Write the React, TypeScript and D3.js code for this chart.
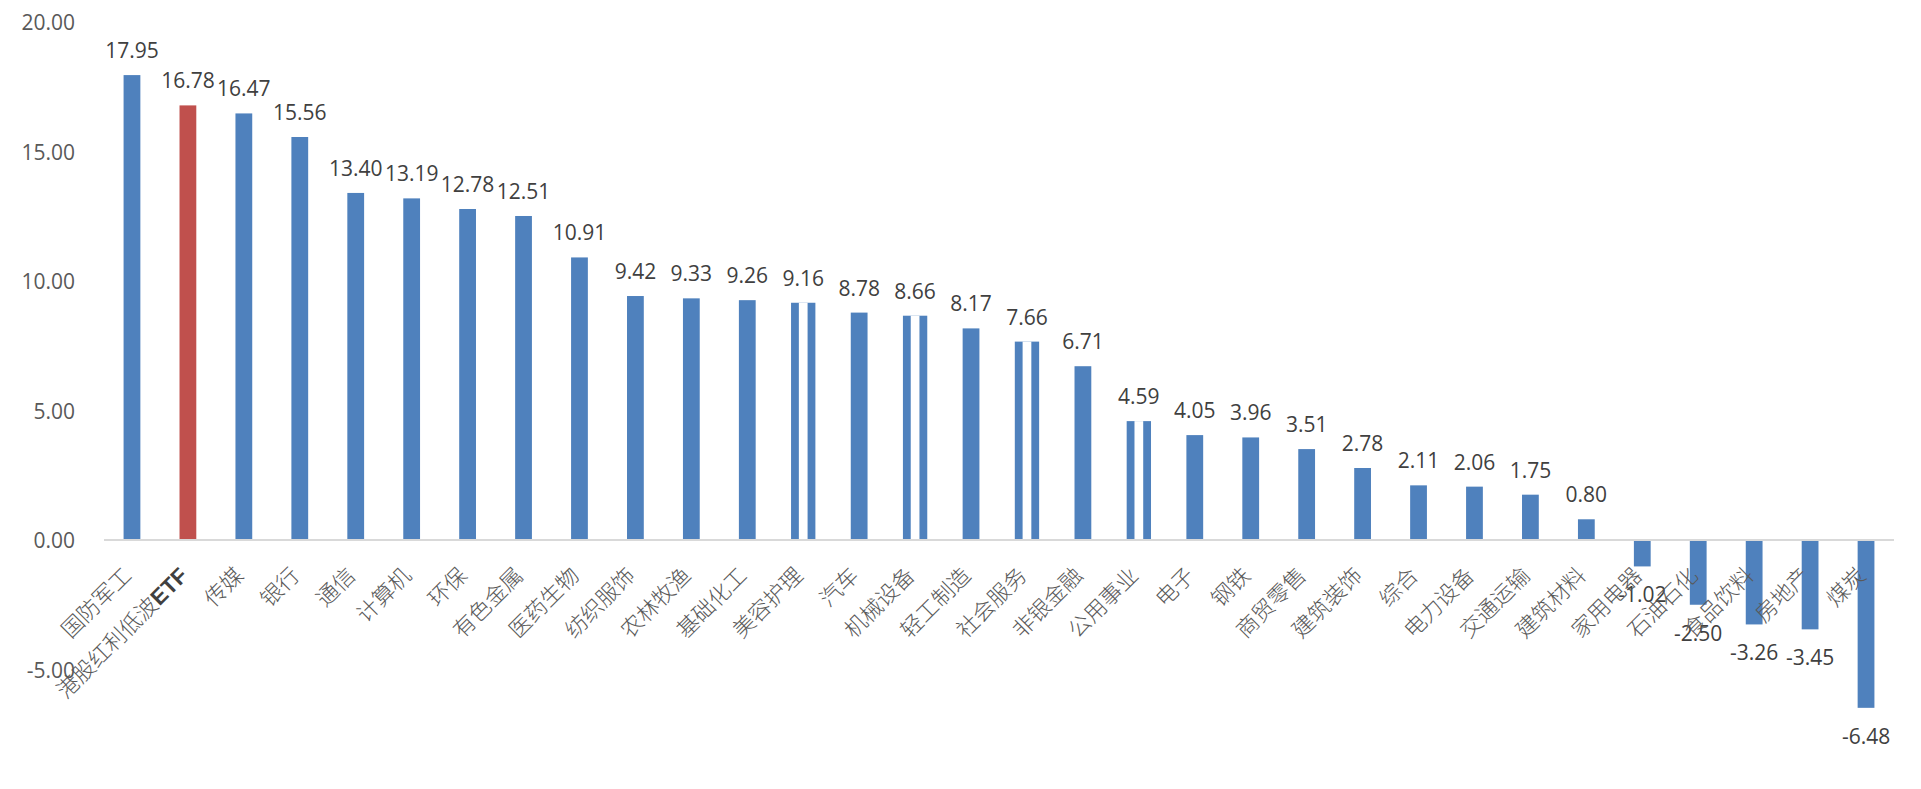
import React from "react";
import * as d3 from "d3";

const categories: string[] = [
  "国防军工", "港股红利低波ETF", "传媒", "银行", "通信", "计算机", "环保", "有色金属",
  "医药生物", "纺织服饰", "农林牧渔", "基础化工", "美容护理", "汽车", "机械设备", "轻工制造",
  "社会服务", "非银金融", "公用事业", "电子", "钢铁", "商贸零售", "建筑装饰", "综合",
  "电力设备", "交通运输", "建筑材料", "家用电器", "石油石化", "食品饮料", "房地产", "煤炭",
];

const values: number[] = [
  17.95, 16.78, 16.47, 15.56, 13.40, 13.19, 12.78, 12.51,
  10.91, 9.42, 9.33, 9.26, 9.16, 8.78, 8.66, 8.17,
  7.66, 6.71, 4.59, 4.05, 3.96, 3.51, 2.78, 2.11,
  2.06, 1.75, 0.80, -1.02, -2.50, -3.26, -3.45, -6.48,
];

const highlight: string[] = ["港股红利低波ETF"];

// bars that show a white seam in the reference rendering
const seamBars: string[] = ["美容护理", "机械设备", "社会服务", "公用事业"];

const yTicks: number[] = [20, 15, 10, 5, 0, -5];

const W = 1921;
const H = 789;
const BLUE = "#4F81BD";
const RED = "#C0504D";

export default function App() {
  const x = d3
    .scaleBand<string>()
    .domain(categories)
    .range([104, 1894])
    .paddingInner(0.7)
    .paddingOuter(0.35);
  const y = d3.scaleLinear().domain([20, -5]).range([22, 669.5]);
  const y0 = y(0);
  const bw = x.bandwidth();

  const renderCat = (c: string) => {
    const m = c.match(/^(.*?)([A-Za-z]+)$/);
    if (m) {
      return (
        <>
          <tspan>{m[1]}</tspan>
          <tspan fontFamily="'Liberation Sans', Arial, sans-serif" fontWeight="bold" fill="#404040">
            {m[2]}
          </tspan>
        </>
      );
    }
    return c;
  };

  return (
    <svg
      width={W}
      height={H}
      style={{ position: "absolute", left: 0, top: 0, display: "block", background: "#fff" }}
    >
      <rect x={0} y={0} width={W} height={H} fill="#fff" />
      {/* y axis labels */}
      <g fontFamily="'Open Sans', 'Noto Sans', sans-serif" fontSize={21} fill="#595959">
        {yTicks.map((t) => (
          <text key={t} x={75} y={y(t)} textAnchor="end" dominantBaseline="central">
            {t.toFixed(2)}
          </text>
        ))}
      </g>
      {/* bars */}
      <g>
        {categories.map((c, i) => {
          const v = values[i];
          const top = Math.min(y(v), y0);
          const h = Math.abs(y(v) - y0);
          const cx = x(c)! + bw / 2;
          if (seamBars.includes(c)) {
            const wide = bw * 1.45;
            const seam = bw * 0.52;
            return (
              <g key={c}>
                <rect x={cx - wide / 2} y={top} width={wide} height={h} fill={BLUE} />
                <rect x={cx - seam / 2} y={top} width={seam} height={h} fill="#fff" />
              </g>
            );
          }
          return (
            <rect
              key={c}
              x={x(c)!}
              y={top}
              width={bw}
              height={h}
              fill={highlight.includes(c) ? RED : BLUE}
            />
          );
        })}
      </g>
      {/* zero axis line */}
      <line x1={104} x2={1894} y1={y0} y2={y0} stroke="#D9D9D9" strokeWidth={2} />
      {/* value labels */}
      <g fontFamily="'Open Sans', 'Noto Sans', sans-serif" fontSize={21} fill="#404040">
        {categories.map((c, i) => {
          const v = values[i];
          const cx = x(c)! + bw / 2;
          const ty = v >= 0 ? y(v) - 25 : y(v) + 28;
          return (
            <text key={c} x={cx} y={ty} textAnchor="middle" dominantBaseline="central">
              {v.toFixed(2)}
            </text>
          );
        })}
      </g>
      {/* category labels */}
      <g fontFamily="'Noto Sans CJK SC', sans-serif" fontSize={22} fill="#595959" fontWeight={300}>
        {categories.map((c) => {
          const cx = x(c)! + bw / 2 + 1;
          const cy = y0 + 37;
          return (
            <text key={c} transform={`translate(${cx},${cy}) rotate(-45)`} textAnchor="end">
              {renderCat(c)}
            </text>
          );
        })}
      </g>
    </svg>
  );
}
